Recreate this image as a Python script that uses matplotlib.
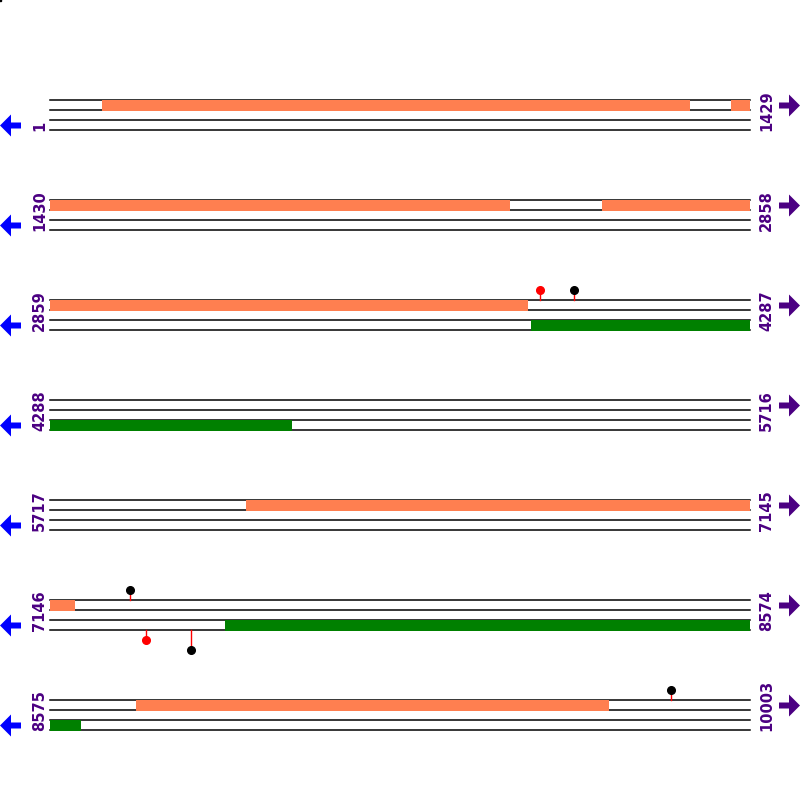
import matplotlib
matplotlib.use('Agg')
import matplotlib.pyplot as plt

# sequence layout: 7 rows of 1429 bp
row_len = 1429
n_rows = 7
seq_end = 10003

# features (start, end) in bp
fwd_feats = [(107, 1307), (1391, 2369), (2557, 3835), (6117, 7197), (8751, 9716)]
rev_feats = [(3841, 4782), (7503, 8638)]

# lollipops: (position, strand, head colour, stem length)
lollipops = [(3859, 'f', 'red', 10), (3929, 'f', 'black', 10),
             (7309, 'f', 'black', 10), (7342, 'r', 'red', 10),
             (7434, 'r', 'black', 20), (9842, 'f', 'black', 10)]

coral = '#FF7F50'
green = '#008000'
purple = '#4B0082'

x0, x1 = 50, 750
px_per_bp = (x1 - x0) / row_len


def row_top(i):
    return 100 + 100 * i


def to_x(pos, i):
    return x0 + (pos - (1 + i * row_len)) * px_per_bp


fig = plt.figure(figsize=(8, 8), dpi=100)
ax = fig.add_axes([0, 0, 1, 1])
ax.set_xlim(0, 800)
ax.set_ylim(800, 0)
ax.axis('off')

lab_font = ['DejaVu Sans Condensed', 'DejaVu Sans']

for i in range(n_rows):
    y = row_top(i)
    start = 1 + i * row_len
    end = min(start + row_len - 1, seq_end)
    for dy in (0, 10, 20, 30):
        ax.plot([x0, x1], [y + dy, y + dy], color='black', lw=1.1, zorder=1)

    # features clipped to this row
    for feats, off, col in ((fwd_feats, 0, coral), (rev_feats, 20, green)):
        for s, e in feats:
            s2, e2 = max(s, start), min(e, end + 1)
            if s2 < e2:
                xa, xb = to_x(s2, i), to_x(e2, i)
                ax.fill_between([xa, xb], y + off - 0.5, y + off + 10.5, color=col, lw=0, zorder=2)

    for pos, strand, col, ln in lollipops:
        if start <= pos <= end:
            xp = to_x(pos, i)
            if strand == 'f':
                ya, yb = y, y - ln
            else:
                ya, yb = y + 30, y + 30 + ln
            ax.plot([xp, xp], [ya, yb], color='red', lw=1, zorder=3)
            ax.plot(xp, yb, 'o', color=col, ms=5.5, zorder=4)

    ax.text(47, y + 31, str(start), rotation=90, ha='right', va='bottom',
            color=purple, fontsize=10.5, fontweight='bold', family=lab_font)
    ax.text(759, y + 31, str(end), rotation=90, ha='left', va='bottom',
            color=purple, fontsize=10.5, fontweight='bold', family=lab_font)

    ax.arrow(21, y + 25.5, -21, 0, width=6, head_width=22, head_length=11,
             length_includes_head=True, color='blue', lw=0)
    ax.arrow(779, y + 5.5, 21, 0, width=6, head_width=22, head_length=11,
             length_includes_head=True, color=purple, lw=0)

ax.plot(0, 0, 's', color='black', ms=2)

fig.savefig('out.png', dpi=100)
